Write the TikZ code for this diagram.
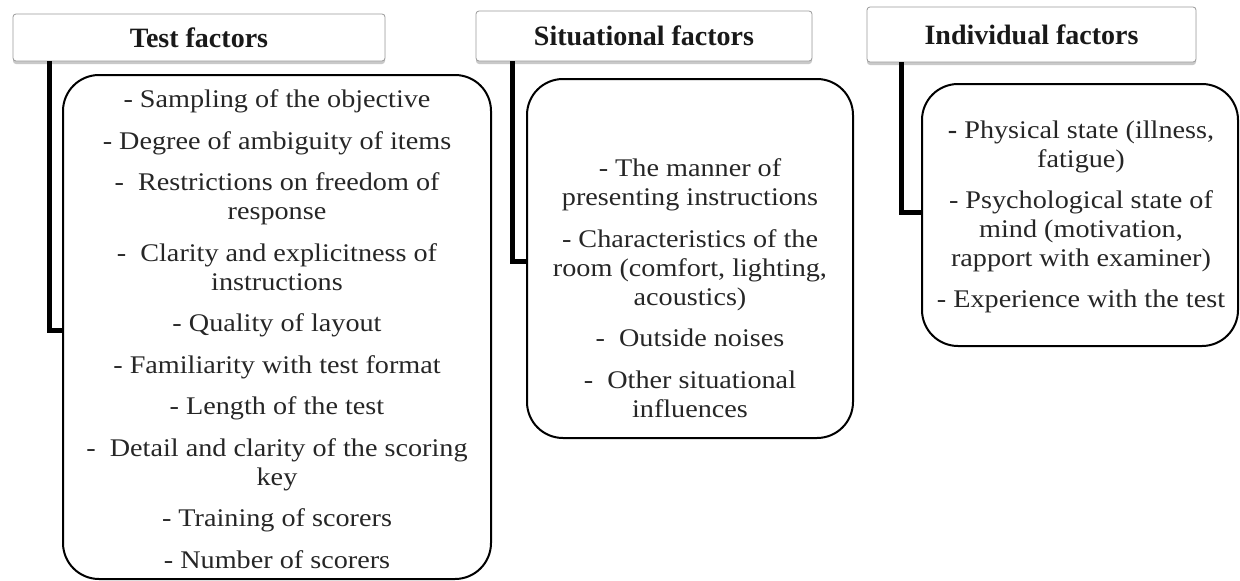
\documentclass[tikz,border=0pt]{standalone}
\usepackage{fontspec}
\setmainfont{Liberation Serif}
\newfontfamily\bodyfont{Liberation Serif}[FakeStretch=1.11]
\usetikzlibrary{shadows}
\begin{document}
\begin{tikzpicture}[x=1pt,y=-1pt,
  headbox/.style={draw=black!40, line width=0.8pt, rounded corners=3pt, fill=white,
    drop shadow={shadow xshift=0pt,shadow yshift=-3pt,opacity=0.3,fill=black!70},
    inner sep=0pt, font=\fontsize{28}{32}\selectfont\bfseries, text=black!90},
  bodybox/.style={draw=black, line width=2pt, rounded corners=36pt, inner sep=0pt},
  bodytext/.style={align=center, font=\bodyfont\fontsize{25.4}{29}\selectfont, inner sep=0pt, text=black!85},
  conn/.style={line width=5pt}]
\useasboundingbox (0,0) rectangle (1240,581);

% headers
\node[headbox, minimum width=372pt, minimum height=47pt] (th) at (199,37.5) {Test factors};
\node[headbox, minimum width=336pt, minimum height=50pt] (sh) at (644,36) {Situational factors};
\node[headbox, minimum width=329pt, minimum height=55pt] (ih) at (1031.5,34.5) {Individual factors};

% body boxes
\node[bodybox, minimum width=428pt, minimum height=504pt] (tb) at (277,327) {};
\node[bodybox, minimum width=326pt, minimum height=359pt] (sb) at (690,258.5) {};
\node[bodybox, minimum width=316pt, minimum height=262pt] (ib) at (1080,215) {};

% texts
\node[bodytext] (tt) at (277,329) {- Sampling of the objective\\[12.5pt]
- Degree of ambiguity of items\\[12.5pt]
-~ Restrictions on freedom of\\ response\\[12.5pt]
-~ Clarity and explicitness of\\ instructions\\[12.5pt]
- Quality of layout\\[12.5pt]
- Familiarity with test format\\[12.5pt]
- Length of the test\\[12.5pt]
-~ Detail and clarity of the scoring\\ key\\[12.5pt]
- Training of scorers\\[12.5pt]
- Number of scorers};

\node[bodytext] (st) at (690,288) {- The manner of\\ presenting instructions\\[12.5pt]
- Characteristics of the\\ room (comfort, lighting,\\ acoustics)\\[12.5pt]
-~ Outside noises\\[12.5pt]
-~ Other situational\\ influences};

\node[bodytext] (it) at (1081,217) {\textbf{-} Physical state (illness,\\ fatigue)\\[11.5pt]
- Psychological state of\\ mind (motivation,\\ rapport with examiner)\\[12.5pt]
- Experience with the test};

% connectors
\coordinate (tj) at (49,330);
\coordinate (sj) at (512,261);
\coordinate (ij) at (901,212);
\draw[conn] (th.south -| tj) -- (tj) -- (tj -| tb.west);
\draw[conn] (sh.south -| sj) -- (sj) -- (sj -| sb.west);
\draw[conn] (ih.south -| ij) -- (ij) -- (ij -| ib.west);
\end{tikzpicture}
\end{document}
